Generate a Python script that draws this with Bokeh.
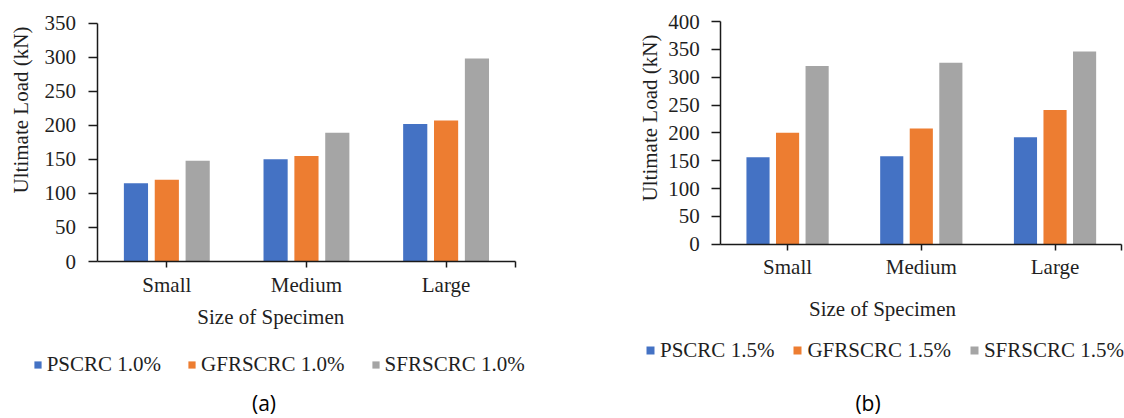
import math
from bokeh.plotting import figure
from bokeh.models import (Range1d, FixedTicker, Legend, LegendItem, ColumnDataSource,
                          LinearAxis, Label)
from bokeh.transform import dodge
from bokeh.embed import file_html
from bokeh.resources import INLINE

# ---------------- data ----------------
categories = ["Small", "Medium", "Large"]

pscrc_10 = [115, 150, 202]
gfrscrc_10 = [120, 155, 207]
sfrscrc_10 = [148, 189, 298]
names_a = ["PSCRC 1.0%", "GFRSCRC 1.0%", "SFRSCRC 1.0%"]
yticks_a = [0, 50, 100, 150, 200, 250, 300, 350]

pscrc_15 = [156, 158, 192]
gfrscrc_15 = [200, 208, 241]
sfrscrc_15 = [320, 326, 346]
names_b = ["PSCRC 1.5%", "GFRSCRC 1.5%", "SFRSCRC 1.5%"]
yticks_b = [0, 50, 100, 150, 200, 250, 300, 350, 400]

y_title = "Ultimate Load (kN)"
x_title = "Size of Specimen"
caption_a = "(a)"
caption_b = "(b)"

colors = ["#4472C4", "#ED7D31", "#A5A5A5"]
SERIF = "Liberation Serif"
TXT = "#1f1f1f"
AX = "#1a1a1a"

W, H = 1124, 418

p = figure(width=W, height=H, x_range=Range1d(0, W), y_range=Range1d(0, H),
           x_axis_type=None, y_axis_type=None, min_border=0, title=None,
           toolbar_location=None, output_backend="svg", tools="")
p.outline_line_color = None


def add_chart(key, series, names, yticks, plot_left, plot_right, y0_px, ytop_px,
              ytitle_xy, xtitle_xy, legend_xy, legend_glyph, legend_spacing, caption, cap_xy):
    """plot_left/right: pixel x of the category axis ends; y0_px/ytop_px: pixel y
    (from top) of value 0 and of the top tick value."""
    n = len(categories)
    xs = (plot_right - plot_left) / n               # pixels per category
    x_start = -0.5 - plot_left / xs
    x_end = (n - 0.5) + (W - plot_right) / xs
    ys = (y0_px - ytop_px) / yticks[-1]             # pixels per kN
    y_start = -(H - y0_px) / ys
    y_end = yticks[-1] + ytop_px / ys
    xr, yr = "x" + key, "y" + key
    p.extra_x_ranges[xr] = Range1d(x_start, x_end)
    p.extra_y_ranges[yr] = Range1d(y_start, y_end)

    src = ColumnDataSource(dict(idx=list(range(n)), s0=series[0], s1=series[1], s2=series[2]))
    offsets = [-0.221, 0.0, 0.221]
    rends = []
    for i, col in enumerate(["s0", "s1", "s2"]):
        r = p.vbar(x=dodge("idx", offsets[i]), top=col, width=0.173, source=src,
                   fill_color=colors[i], line_color=None, x_range_name=xr, y_range_name=yr)
        rends.append(r)

    xax = LinearAxis(x_range_name=xr, y_range_name=yr, fixed_location=0,
                     bounds=(-0.5, n - 0.5),
                     ticker=FixedTicker(ticks=list(range(n)) + [n - 0.5]),
                     major_label_overrides={**{i: c for i, c in enumerate(categories)}, n - 0.5: ""})
    yax = LinearAxis(x_range_name=xr, y_range_name=yr, fixed_location=-0.5,
                     bounds=(yticks[0], yticks[-1]), ticker=FixedTicker(ticks=yticks))
    for ax in (xax, yax):
        ax.axis_line_color = AX
        ax.axis_line_width = 1.5
        ax.major_tick_line_color = AX
        ax.major_tick_line_width = 1.5
        ax.minor_tick_line_color = None
        ax.major_tick_in = 0
        ax.major_label_text_font = SERIF
        ax.major_label_text_font_size = "21px"
        ax.major_label_text_color = TXT
    yax.major_tick_out = 9
    yax.major_label_standoff = 12
    xax.major_tick_out = 6
    xax.major_label_standoff = 5
    p.add_layout(xax, "below")
    p.add_layout(yax, "left")

    p.add_layout(Label(x=ytitle_xy[0], y=H - ytitle_xy[1], x_units="screen", y_units="screen",
                       text=y_title, angle=math.pi / 2, text_align="center",
                       text_baseline="middle", text_font=SERIF, text_font_size="21px",
                       text_color=TXT))
    p.add_layout(Label(x=xtitle_xy[0], y=H - xtitle_xy[1], x_units="screen", y_units="screen",
                       text=x_title, text_align="center", text_baseline="middle",
                       text_font=SERIF, text_font_size="21px", text_color=TXT))
    p.add_layout(Label(x=cap_xy[0], y=H - cap_xy[1], x_units="screen", y_units="screen",
                       text=caption, text_align="center", text_baseline="middle",
                       text_font="Open Sans", text_font_size="21px", text_color="#000000"))

    items = [LegendItem(label=names[i], renderers=[rends[i]]) for i in range(3)]
    leg = Legend(items=items, orientation="horizontal",
                 location=(legend_xy[0], H - legend_xy[1]),
                 padding=0, margin=0, spacing=legend_spacing,
                 glyph_width=legend_glyph, glyph_height=legend_glyph, label_height=legend_glyph,
                 label_standoff=5,
                 label_text_font=SERIF, label_text_font_size="21px", label_text_color=TXT,
                 border_line_alpha=0, background_fill_alpha=0)
    p.add_layout(leg)


# positions in page pixels measured from the top-left corner
add_chart("a", [pscrc_10, gfrscrc_10, sfrscrc_10], names_a, yticks_a,
          plot_left=96.5, plot_right=515.4, y0_px=261.0, ytop_px=22.7,
          ytitle_xy=(20.5, 109.5), xtitle_xy=(270.3, 316.3),
          legend_xy=(32.7, 376.5), legend_glyph=9, legend_spacing=26,
          caption=caption_a, cap_xy=(263.5, 402.5))

add_chart("b", [pscrc_15, gfrscrc_15, sfrscrc_15], names_b, yticks_b,
          plot_left=720.2, plot_right=1121.4, y0_px=243.7, ytop_px=21.0,
          ytitle_xy=(649.5, 117.5), xtitle_xy=(882.0, 308.8),
          legend_xy=(645.0, 362.7), legend_glyph=10, legend_spacing=18,
          caption=caption_b, cap_xy=(867.5, 402.5))

open("out.html", "w").write(file_html(p, INLINE))
